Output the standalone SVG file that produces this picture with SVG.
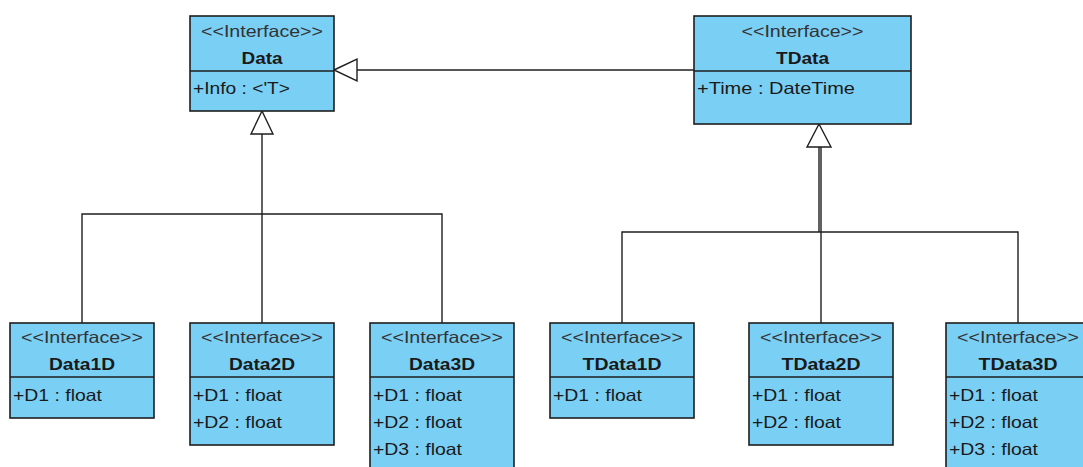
<svg xmlns="http://www.w3.org/2000/svg" width="1083" height="467" viewBox="0 0 1083 467">
<style>
.box{fill:#7ACFF5;stroke:#1e1e1e;stroke-width:1.6}
.sep{stroke:#1e1e1e;stroke-width:1.6}
.st{font-family:"Liberation Sans",Arial,sans-serif;font-size:16.5px;fill:#333;text-anchor:middle}
.nm{font-family:"Liberation Sans",Arial,sans-serif;font-size:16px;font-weight:bold;fill:#1a1a1a;text-anchor:middle}
.at{font-family:"Liberation Sans",Arial,sans-serif;font-size:16.5px;fill:#1a1a1a}
.ln{fill:none;stroke:#1e1e1e;stroke-width:1.4}
.tri{fill:#fff;stroke:#1e1e1e;stroke-width:1.4}
</style>
<rect width="1083" height="467" fill="#fff"/>
<g id="connectors">
<polyline class="ln" points="694,70 357,70"/>
<polygon class="tri" points="334,70 357,59 357,81"/>
<line class="ln" x1="262" y1="134" x2="262" y2="323"/>
<polyline class="ln" points="82,323 82,214 442,214 442,323"/>
<polygon class="tri" points="262,111 273,134 251,134"/>
<line class="ln" x1="819" y1="147" x2="819" y2="232"/>
<line class="ln" x1="821" y1="147" x2="821" y2="323"/>
<polyline class="ln" points="622,323 622,232 1018,232 1018,323"/>
<polygon class="tri" points="819,124 831,147 807,147"/>
</g>
<g id="Data">
<rect class="box" x="190" y="16" width="144" height="95"/>
<line class="sep" x1="190" y1="71" x2="334" y2="71"/>
<text class="st" x="262" y="36.5" textLength="122" lengthAdjust="spacingAndGlyphs">&lt;&lt;Interface&gt;&gt;</text>
<text class="nm" x="262" y="63.5" textLength="41" lengthAdjust="spacingAndGlyphs">Data</text>
<text class="at" x="193" y="93.5" textLength="97" lengthAdjust="spacingAndGlyphs">+Info : &lt;'T&gt;</text>
</g>
<g id="TData">
<rect class="box" x="694" y="16" width="217" height="108"/>
<line class="sep" x1="694" y1="71" x2="911" y2="71"/>
<text class="st" x="802.5" y="36.5" textLength="122" lengthAdjust="spacingAndGlyphs">&lt;&lt;Interface&gt;&gt;</text>
<text class="nm" x="802.5" y="63.5" textLength="53" lengthAdjust="spacingAndGlyphs">TData</text>
<text class="at" x="697" y="93.5" textLength="158" lengthAdjust="spacingAndGlyphs">+Time : DateTime</text>
</g>
<g id="Data1D">
<rect class="box" x="10" y="323" width="144" height="95"/>
<line class="sep" x1="10" y1="377" x2="154" y2="377"/>
<text class="st" x="82" y="342.5" textLength="122" lengthAdjust="spacingAndGlyphs">&lt;&lt;Interface&gt;&gt;</text>
<text class="nm" x="82" y="369.5" textLength="66" lengthAdjust="spacingAndGlyphs">Data1D</text>
<text class="at" x="13" y="400.5" textLength="89" lengthAdjust="spacingAndGlyphs">+D1 : float</text>
</g>
<g id="Data2D">
<rect class="box" x="190" y="323" width="144" height="122"/>
<line class="sep" x1="190" y1="377" x2="334" y2="377"/>
<text class="st" x="262" y="342.5" textLength="122" lengthAdjust="spacingAndGlyphs">&lt;&lt;Interface&gt;&gt;</text>
<text class="nm" x="262" y="369.5" textLength="66" lengthAdjust="spacingAndGlyphs">Data2D</text>
<text class="at" x="193" y="400.5" textLength="89" lengthAdjust="spacingAndGlyphs">+D1 : float</text>
<text class="at" x="193" y="427.5" textLength="89" lengthAdjust="spacingAndGlyphs">+D2 : float</text>
</g>
<g id="Data3D">
<rect class="box" x="370" y="323" width="144" height="149"/>
<line class="sep" x1="370" y1="377" x2="514" y2="377"/>
<text class="st" x="442" y="342.5" textLength="122" lengthAdjust="spacingAndGlyphs">&lt;&lt;Interface&gt;&gt;</text>
<text class="nm" x="442" y="369.5" textLength="66" lengthAdjust="spacingAndGlyphs">Data3D</text>
<text class="at" x="373" y="400.5" textLength="89" lengthAdjust="spacingAndGlyphs">+D1 : float</text>
<text class="at" x="373" y="427.5" textLength="89" lengthAdjust="spacingAndGlyphs">+D2 : float</text>
<text class="at" x="373" y="454.5" textLength="89" lengthAdjust="spacingAndGlyphs">+D3 : float</text>
</g>
<g id="TData1D">
<rect class="box" x="550" y="323" width="144" height="95"/>
<line class="sep" x1="550" y1="377" x2="694" y2="377"/>
<text class="st" x="622" y="342.5" textLength="122" lengthAdjust="spacingAndGlyphs">&lt;&lt;Interface&gt;&gt;</text>
<text class="nm" x="622" y="369.5" textLength="79" lengthAdjust="spacingAndGlyphs">TData1D</text>
<text class="at" x="553" y="400.5" textLength="89" lengthAdjust="spacingAndGlyphs">+D1 : float</text>
</g>
<g id="TData2D">
<rect class="box" x="749" y="323" width="144" height="122"/>
<line class="sep" x1="749" y1="377" x2="893" y2="377"/>
<text class="st" x="821" y="342.5" textLength="122" lengthAdjust="spacingAndGlyphs">&lt;&lt;Interface&gt;&gt;</text>
<text class="nm" x="821" y="369.5" textLength="79" lengthAdjust="spacingAndGlyphs">TData2D</text>
<text class="at" x="752" y="400.5" textLength="89" lengthAdjust="spacingAndGlyphs">+D1 : float</text>
<text class="at" x="752" y="427.5" textLength="89" lengthAdjust="spacingAndGlyphs">+D2 : float</text>
</g>
<g id="TData3D">
<rect class="box" x="946" y="323" width="144" height="149"/>
<line class="sep" x1="946" y1="377" x2="1090" y2="377"/>
<text class="st" x="1018" y="342.5" textLength="122" lengthAdjust="spacingAndGlyphs">&lt;&lt;Interface&gt;&gt;</text>
<text class="nm" x="1018" y="369.5" textLength="79" lengthAdjust="spacingAndGlyphs">TData3D</text>
<text class="at" x="949" y="400.5" textLength="89" lengthAdjust="spacingAndGlyphs">+D1 : float</text>
<text class="at" x="949" y="427.5" textLength="89" lengthAdjust="spacingAndGlyphs">+D2 : float</text>
<text class="at" x="949" y="454.5" textLength="89" lengthAdjust="spacingAndGlyphs">+D3 : float</text>
</g>
</svg>
